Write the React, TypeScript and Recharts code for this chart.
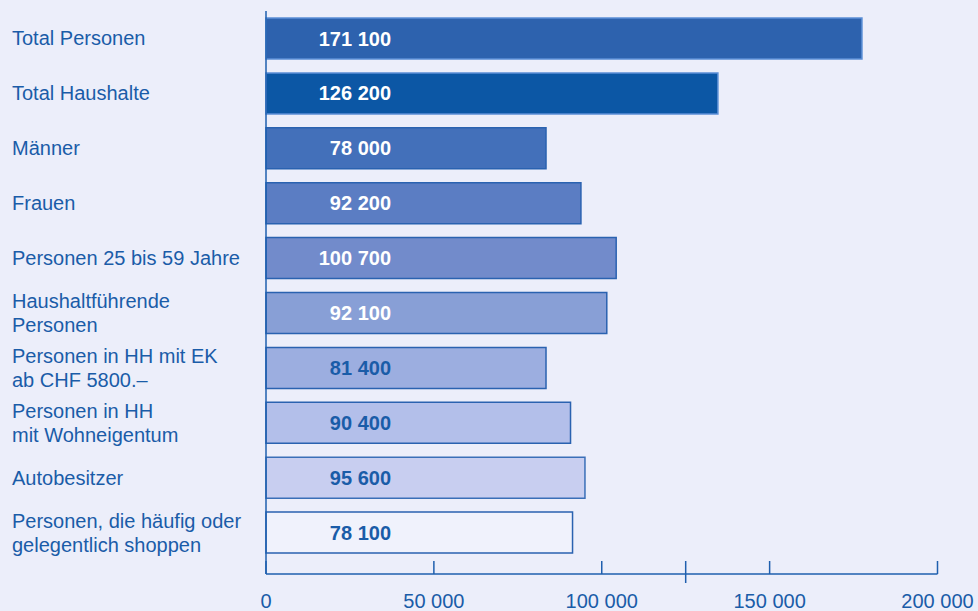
import React from "react";
import { BarChart, Bar, XAxis, YAxis, Cell, LabelList } from "recharts";

const categories = [
  "Total Personen",
  "Total Haushalte",
  "Männer",
  "Frauen",
  "Personen 25 bis 59 Jahre",
  "Haushaltführende\nPersonen",
  "Personen in HH mit EK\nab CHF 5800.–",
  "Personen in HH\nmit Wohneigentum",
  "Autobesitzer",
  "Personen, die häufig oder\ngelegentlich shoppen",
];
// bar lengths as drawn in the picture
const barLengths = [177500, 134600, 83400, 93800, 104300, 101500, 83400, 90700, 95000, 91300];
// values printed in the bars
const labelValues = [171100, 126200, 78000, 92200, 100700, 92100, 81400, 90400, 95600, 78100];
const xTicks = [0, 50000, 100000, 125000, 150000, 200000];
const xTickLabels = ["0", "50 000", "100 000", "", "150 000", "200 000"];

const barColors = [
  "#2d62ae", "#0c57a5", "#4370ba", "#5b7dc3", "#728bcb",
  "#889fd6", "#9caee0", "#b3bfea", "#c8cef0", "#f0f2fc",
];
const barStrokes = [
  "#5b8fd6", "#5b8fd6", "#2a62b0", "#2a62b0", "#2a62b0",
  "#2a62b0", "#2a62b0", "#2a62b0", "#3a6fb8", "#2a62b0",
];
const labelColors = [
  "#ffffff", "#ffffff", "#ffffff", "#ffffff", "#ffffff",
  "#ffffff", "#1a5ca8", "#1a5ca8", "#1a5ca8", "#1a5ca8",
];

const BLUE = "#1a5ca8";
const AXIS = "#1f5fae";
const FONT = "'Liberation Sans', Arial, sans-serif";

const fmt = (n: number) => String(n).replace(/\B(?=(\d{3})+(?!\d))/g, " ");

const data = categories.map((c, i) => ({
  name: c,
  value: barLengths[i],
  label: fmt(labelValues[i]),
  idx: i,
}));

const YTick = (props: any) => {
  const { y, payload } = props;
  const lines = String(payload.value).split("\n");
  const start = -((lines.length - 1) * 24) / 2;
  return (
    <text x={12} y={y} fill={BLUE} fontSize={20} fontFamily={FONT} dominantBaseline="central">
      {lines.map((l, i) => (
        <tspan key={i} x={12} dy={i === 0 ? start : 24}>
          {l}
        </tspan>
      ))}
    </text>
  );
};

const XTick = (props: any) => {
  const { x, y, payload } = props;
  const i = xTicks.indexOf(payload.value);
  const lab = xTickLabels[i] ?? "";
  const isMinor = lab === "";
  return (
    <g>
      <line x1={x} x2={x} y1={y - 13} y2={isMinor ? y + 9 : y} stroke={AXIS} strokeWidth={1.5} />
      {lab && (
        <text x={x} y={y + 34} textAnchor="middle" fill={BLUE} fontSize={20} fontFamily={FONT}>
          {lab}
        </text>
      )}
    </g>
  );
};

const ValueLabel = (props: any) => {
  const { x, y, height, value, index } = props;
  return (
    <text
      x={x + 125}
      y={y + height / 2}
      textAnchor="end"
      dominantBaseline="central"
      fill={labelColors[index] ?? BLUE}
      fontSize={20}
      fontWeight="bold"
      fontFamily={FONT}
    >
      {value}
    </text>
  );
};

export default function App() {
  return (
    <div
      style={{
        position: "absolute",
        left: 0,
        top: 0,
        width: 978,
        height: 611,
        background: "#eceefa",
        overflow: "hidden",
      }}
    >
      <BarChart
        width={978}
        height={611}
        data={data}
        layout="vertical"
        margin={{ top: 11, right: 40.5, bottom: 0, left: 0 }}
      >
        <XAxis
          type="number"
          domain={[0, 200000]}
          ticks={xTicks}
          interval={0}
          tick={<XTick />}
          tickLine={false}
          tickSize={0}
          tickMargin={0}
          axisLine={{ stroke: AXIS, strokeWidth: 1.5 }}
          height={37}
        />
        <YAxis
          type="category"
          dataKey="name"
          width={266}
          tick={<YTick />}
          tickLine={false}
          interval={0}
          axisLine={{ stroke: AXIS, strokeWidth: 1.5 }}
          padding={{ top: 0, bottom: 14 }}
        />
        <Bar dataKey="value" barSize={41} isAnimationActive={false} strokeWidth={1.5}>
          {data.map((d, i) => (
            <Cell key={i} fill={barColors[i]} stroke={barStrokes[i]} />
          ))}
          <LabelList dataKey="label" content={<ValueLabel />} />
        </Bar>
      </BarChart>
    </div>
  );
}
